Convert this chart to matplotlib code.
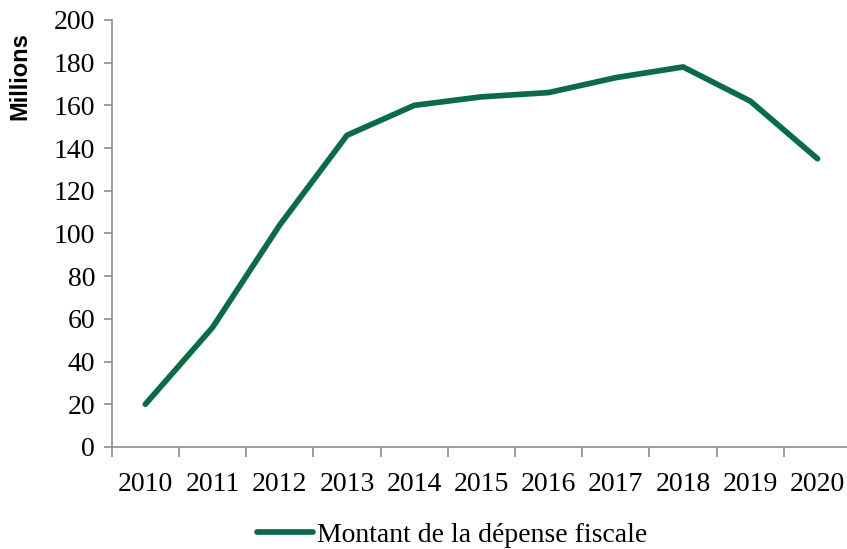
import matplotlib.pyplot as plt
import numpy as np

years = ['2010', '2011', '2012', '2013', '2014', '2015',
         '2016', '2017', '2018', '2019', '2020']
montant = [20, 56, 104, 146, 160, 164, 166, 173, 178, 162, 135]

line_color = '#0B6B45'
axis_color = '#8C8C8C'
serif = ['Liberation Serif', 'DejaVu Serif']

fig = plt.figure(figsize=(8.47, 5.49), dpi=100)
ax = fig.add_axes([0.1319, 0.1858, 0.873, 0.7778])

x = np.arange(len(years))
line, = ax.plot(x, montant, color=line_color, linewidth=4.1,
                solid_capstyle='round', solid_joinstyle='round',
                label='Montant de la dépense fiscale')

ax.set_xlim(-0.5, len(years) - 0.5)
ax.set_ylim(0, 200)
ax.set_yticks(np.arange(0, 201, 20))

# category labels in the middle, tick marks between categories
ax.set_xticks(x)
ax.set_xticklabels(years)
ax.set_xticks(np.arange(-0.5, len(years)), minor=True)
ax.tick_params(axis='x', which='major', length=0, pad=18)
ax.tick_params(axis='x', which='minor', length=7, width=1.2, color=axis_color)
ax.tick_params(axis='y', length=6, width=1.2, color=axis_color, pad=6)

for lab in ax.get_xticklabels() + ax.get_yticklabels():
    lab.set_family(serif)
    lab.set_fontsize(20)

for side in ['top', 'right']:
    ax.spines[side].set_visible(False)
for side in ['left', 'bottom']:
    ax.spines[side].set_color(axis_color)
    ax.spines[side].set_linewidth(1.2)

fig.text(20 / 847, 1 - 76 / 549, 'Millions', rotation=90, ha='center', va='center',
         fontsize=17, fontweight='bold', family=['Liberation Sans', 'DejaVu Sans'])

fig.legend(handles=[line], loc='center', bbox_to_anchor=(452 / 847, 1 - 535 / 549),
           frameon=False, handlelength=2.0, handletextpad=0.15,
           prop={'family': serif, 'size': 20})

plt.savefig('out.png', dpi=100)
